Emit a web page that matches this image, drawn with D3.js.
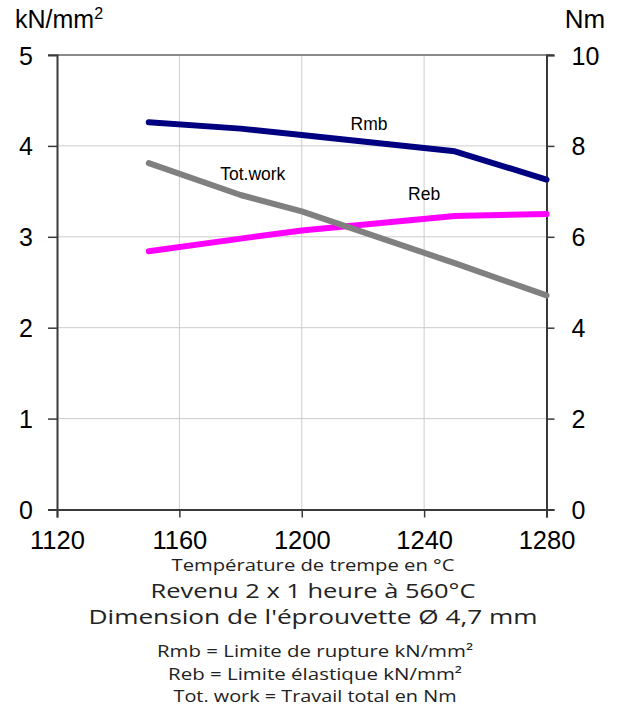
<!DOCTYPE html>
<html>
<head>
<meta charset="utf-8">
<script src="https://cdn.jsdelivr.net/npm/d3@7"></script>
<style>
  html, body { margin: 0; padding: 0; background: #fff; }
  svg { display: block; }
</style>
</head>
<body>
<div id="chart"></div>
<script>
// ---- data ----
const temperatures = [1150, 1180, 1200, 1250, 1280];
const rmb = [4.26, 4.19, 4.12, 3.94, 3.63];      // kN/mm², left axis
const reb = [2.84, 2.98, 3.07, 3.23, 3.25];      // kN/mm², left axis
const totWork = [7.62, 6.92, 6.56, 5.42, 4.71];  // Nm, right axis
const xTicks = [1120, 1160, 1200, 1240, 1280];
const yLeftTicks = [0, 1, 2, 3, 4, 5];
const yRightTicks = [0, 2, 4, 6, 8, 10];
const leftUnit = "kN/mm";
const rightUnit = "Nm";
const xTitle = "Température de trempe en °C";
const notes = ["Revenu 2 x 1 heure à 560°C", "Dimension de l'éprouvette Ø 4,7 mm"];
const legendLines = ["Rmb = Limite de rupture kN/mm²", "Reb = Limite élastique kN/mm²", "Tot. work = Travail total en Nm"];

const W = 626, H = 710;
const L = 57, R = 546.5, T = 55, B = 509.5;

const svg = d3.select("#chart").append("svg").attr("width", W).attr("height", H);

const x = d3.scaleLinear().domain([1120, 1280]).range([L, R]);
const yL = d3.scaleLinear().domain([0, 5]).range([B, T]);
const yR = d3.scaleLinear().domain([0, 10]).range([B, T]);

const axisFont = "'Liberation Sans', Arial, sans-serif";
const textFont = "'Open Sans', 'Noto Sans', sans-serif";

// gridlines
svg.append("g").selectAll("line.h").data(yLeftTicks.filter(d => d > 0 && d < 5)).join("line")
  .attr("x1", L).attr("x2", R).attr("y1", d => yL(d)).attr("y2", d => yL(d))
  .attr("stroke", "#cccccc").attr("stroke-width", 1);
svg.append("g").selectAll("line.v").data(xTicks.filter(d => d > 1120 && d < 1280)).join("line")
  .attr("x1", d => x(d)).attr("x2", d => x(d)).attr("y1", T).attr("y2", B)
  .attr("stroke", "#cccccc").attr("stroke-width", 1);

// top border (gray)
svg.append("line").attr("x1", L - 9).attr("x2", R + 7).attr("y1", T).attr("y2", T)
  .attr("stroke", "#8a8a8a").attr("stroke-width", 2);

// axes
const leftAxis = d3.axisLeft(yL).tickValues(yLeftTicks).tickSize(9).tickFormat(d3.format("d"));
const gl = svg.append("g").attr("transform", `translate(${L},0)`).call(leftAxis);
const rightAxis = d3.axisRight(yR).tickValues(yRightTicks).tickSize(8).tickFormat(d3.format("d"));
const gr = svg.append("g").attr("transform", `translate(${R},0)`).call(rightAxis);
const bottomAxis = d3.axisBottom(x).tickValues(xTicks).tickSize(8).tickFormat(d3.format("d"));
const gb = svg.append("g").attr("transform", `translate(0,${B})`).call(bottomAxis);

[gl, gr, gb].forEach(g => {
  g.select(".domain").attr("stroke", "#3a3a3a").attr("stroke-width", 2);
  g.selectAll(".tick line").attr("stroke", "#3a3a3a").attr("stroke-width", 1.5);
  g.selectAll(".tick text").attr("font-family", axisFont).attr("fill", "#000");
});
gl.selectAll(".tick text").attr("font-size", 25).attr("x", -24).attr("dy", "0.36em");
gr.selectAll(".tick text").attr("font-size", 25).attr("x", 25).attr("dy", "0.36em");
gb.selectAll(".tick text").attr("font-size", 25.5).attr("y", 21).attr("dy", "0.71em");
gl.select(".tick:last-of-type line").attr("stroke", "none");

// unit labels
const lu = svg.append("text").attr("x", 15).attr("y", 28)
  .attr("font-family", axisFont).attr("font-size", 25).attr("fill", "#000").text(leftUnit);
lu.append("tspan").attr("font-size", 16).attr("dy", -9).text("2");
svg.append("text").attr("x", 585).attr("y", 28).attr("text-anchor", "middle")
  .attr("font-family", axisFont).attr("font-size", 26).attr("fill", "#000").text(rightUnit);

// series lines
const lineL = d3.line().x((d, i) => x(temperatures[i])).y(d => yL(d));
const lineR = d3.line().x((d, i) => x(temperatures[i])).y(d => yR(d));
const series = [
  { vals: rmb, gen: lineL, color: "#000080" },
  { vals: reb, gen: lineL, color: "#ff00ff" },
  { vals: totWork, gen: lineR, color: "#808080" }
];
series.forEach(s => {
  svg.append("path").attr("d", s.gen(s.vals)).attr("fill", "none")
    .attr("stroke", s.color).attr("stroke-width", 6)
    .attr("stroke-linecap", "round").attr("stroke-linejoin", "round");
});

// series labels
const labels = [
  { t: "Rmb", x: x(1222), y: yL(4.17) },
  { t: "Tot.work", x: x(1184), y: yR(7.25) },
  { t: "Reb", x: x(1240), y: yL(3.4) }
];
svg.append("g").selectAll("text").data(labels).join("text")
  .attr("x", d => d.x).attr("y", d => d.y).attr("text-anchor", "middle")
  .attr("font-family", axisFont).attr("font-size", 17.5).attr("fill", "#000")
  .text(d => d.t);

// bottom texts
svg.append("text").attr("x", 313).attr("y", 571).attr("text-anchor", "middle")
  .attr("font-family", textFont).attr("font-size", 16).attr("fill", "#222")
  .attr("textLength", 283).attr("lengthAdjust", "spacingAndGlyphs").text(xTitle);
const noteLens = [325, 449];
notes.forEach((n, i) => {
  svg.append("text").attr("x", 313).attr("y", 598 + i * 26).attr("text-anchor", "middle")
    .attr("font-family", textFont).attr("font-size", 20).attr("fill", "#222")
    .attr("textLength", noteLens[i]).attr("lengthAdjust", "spacingAndGlyphs").text(n);
});
const legendLens = [316, 294, 283];
legendLines.forEach((n, i) => {
  svg.append("text").attr("x", 315).attr("y", 657 + i * 22.5).attr("text-anchor", "middle")
    .attr("font-family", textFont).attr("font-size", 17).attr("fill", "#222")
    .attr("textLength", legendLens[i]).attr("lengthAdjust", "spacingAndGlyphs").text(n);
});
</script>
</body>
</html>
